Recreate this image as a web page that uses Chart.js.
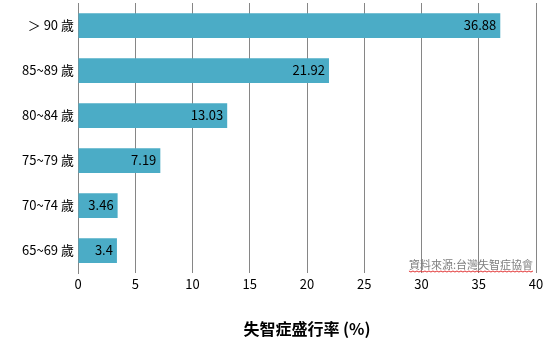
<!DOCTYPE html>
<html>
<head>
<meta charset="utf-8">
<script src="https://cdn.jsdelivr.net/npm/chart.js@4"></script>
<style>
  html, body { margin: 0; padding: 0; background: #fff; }
  #wrap { width: 560px; height: 345px; }
</style>
</head>
<body>
<div id="wrap"><canvas id="c" width="560" height="345"></canvas></div>
<script>
const ageGroups = ['＞ 90 歲', '85~89 歲', '80~84 歲', '75~79 歲', '70~74 歲', '65~69 歲'];
const prevalence = [36.88, 21.92, 13.03, 7.19, 3.46, 3.4];
const prevalenceLabels = ['36.88', '21.92', '13.03', '7.19', '3.46', '3.4'];
const axisTitle = '失智症盛行率 (%)';
const sourceNote = '資料來源:台灣失智症協會';

const FONT = "'Noto Sans CJK TC', 'Noto Sans', sans-serif";

// value labels at the inner end of each bar
const barLabels = {
  id: 'barLabels',
  afterDatasetsDraw(chart) {
    const ctx = chart.ctx;
    const meta = chart.getDatasetMeta(0);
    ctx.save();
    ctx.font = '13px ' + FONT;
    ctx.fillStyle = '#000';
    ctx.textAlign = 'right';
    ctx.textBaseline = 'middle';
    meta.data.forEach((bar, i) => {
      ctx.fillText(prevalenceLabels[i], bar.x - 4, bar.y);
    });
    ctx.restore();
  }
};

// source note in the lower right corner of the plot
const sourceText = {
  id: 'sourceText',
  afterDraw(chart) {
    const ctx = chart.ctx;
    const area = chart.chartArea;
    ctx.save();
    ctx.font = '11px ' + FONT;
    ctx.fillStyle = '#7f7f7f';
    ctx.textAlign = 'right';
    ctx.textBaseline = 'bottom';
    const xr = area.right - 3, yb = area.bottom - 3;
    ctx.fillText(sourceNote, xr, yb);
    const w = ctx.measureText(sourceNote).width;
    // spell-check style squiggle
    ctx.strokeStyle = '#e03030';
    ctx.lineWidth = 1;
    ctx.beginPath();
    for (let x = xr - w; x <= xr; x += 2) {
      const y = yb + 1 + ((Math.round((x - (xr - w)) / 2) % 2) ? 1 : 0);
      if (x === xr - w) ctx.moveTo(x, y); else ctx.lineTo(x, y);
    }
    ctx.stroke();
    ctx.restore();
  }
};

new Chart(document.getElementById('c'), {
  type: 'bar',
  data: {
    labels: ageGroups,
    datasets: [{
      data: prevalence,
      backgroundColor: '#4bacc6',
      borderWidth: 0,
      categoryPercentage: 0.55,
      barPercentage: 1
    }]
  },
  options: {
    indexAxis: 'y',
    responsive: false,
    animation: false,
    events: [],
    layout: { padding: { top: 3, right: 24, left: 0, bottom: 4 } },
    plugins: { legend: { display: false }, tooltip: { enabled: false } },
    scales: {
      x: {
        min: 0,
        max: 40,
        ticks: { stepSize: 5, color: '#000', font: { size: 13, family: FONT }, padding: 3 },
        grid: { color: '#868686', drawTicks: false, lineWidth: 1 },
        border: { display: false },
        title: {
          display: true,
          text: axisTitle,
          color: '#000',
          font: { size: 16, weight: 'bold', family: FONT },
          padding: { top: 20, bottom: 2 }
        },
        afterFit(scale) { scale.height = 68; }
      },
      y: {
        ticks: { color: '#000', font: { size: 13, family: FONT }, padding: 4 },
        grid: { display: false, drawTicks: false },
        border: { display: true, color: '#868686' },
        afterFit(scale) {
          scale.width = 78;
          scale.paddingTop = 0;
          scale.paddingBottom = 0;
        }
      }
    }
  },
  plugins: [barLabels, sourceText]
});
</script>
</body>
</html>
